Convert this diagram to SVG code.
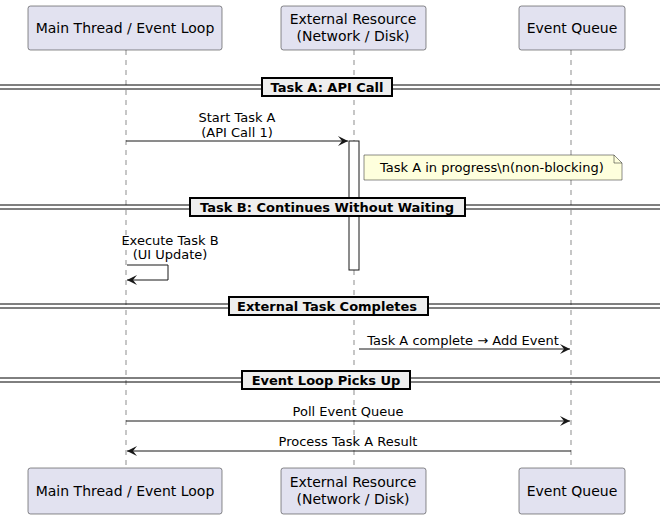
<svg xmlns="http://www.w3.org/2000/svg" width="660" height="519" viewBox="0 0 660 519">
<style>
text{font-family:"DejaVu Sans","Liberation Sans",sans-serif;fill:#000}
.p rect{fill:#E2E2F0;stroke:#181818;stroke-width:0.5}
.p text{font-size:14px;text-anchor:middle}
.life{stroke:#181818;stroke-width:0.5;stroke-dasharray:5,5}
.m{stroke:#181818;stroke-width:1;fill:none}
.ml{font-size:13px;text-anchor:middle}
.dl{stroke:#000;stroke-width:1}
.db{fill:#EEEEEE;stroke:#000;stroke-width:2}
.dt{font-size:13px;font-weight:bold;text-anchor:middle}
</style>
<defs><marker id="a" viewBox="0 0 10 10" refX="10" refY="5" markerWidth="10" markerHeight="10" markerUnits="userSpaceOnUse" orient="auto"><path d="M0,0 L10,5 L0,10 L4,5 Z" fill="#181818"/></marker></defs>
<g id="lifelines">
<line class="life" x1="126" y1="50" x2="126" y2="468"/>
<line class="life" x1="354" y1="50" x2="354" y2="468"/>
<line class="life" x1="571" y1="50" x2="571" y2="468"/>
</g>
<rect x="349" y="141" width="10" height="129" fill="#fff" stroke="#181818" stroke-width="1"/>
<g id="main" class="p"><rect x="28" y="6" width="194" height="44" rx="2.5"/><text x="125" y="33">Main Thread / Event Loop</text>
<rect x="28" y="468" width="194" height="46" rx="2.5"/><text x="125" y="496">Main Thread / Event Loop</text></g>
<g id="ext" class="p"><rect x="281" y="6" width="145" height="44" rx="2.5"/><text x="353" y="24">External Resource</text><text x="353" y="41">(Network / Disk)</text>
<rect x="281" y="468" width="145" height="46" rx="2.5"/><text x="353" y="487">External Resource</text><text x="353" y="504">(Network / Disk)</text></g>
<g id="queue" class="p"><rect x="519" y="6" width="106" height="44" rx="2.5"/><text x="572" y="33">Event Queue</text>
<rect x="519" y="468" width="106" height="46" rx="2.5"/><text x="572" y="496">Event Queue</text></g>
<g id="dividers">
<line class="dl" x1="0" y1="85" x2="660" y2="85"/><line class="dl" x1="0" y1="89" x2="660" y2="89"/>
<rect class="db" x="262" y="78" width="130" height="18"/><text class="dt" x="327" y="92">Task A: API Call</text>
<line class="dl" x1="0" y1="205" x2="660" y2="205"/><line class="dl" x1="0" y1="209" x2="660" y2="209"/>
<rect class="db" x="190" y="198" width="275" height="18"/><text class="dt" x="327" y="212">Task B: Continues Without Waiting</text>
<line class="dl" x1="0" y1="304" x2="660" y2="304"/><line class="dl" x1="0" y1="308" x2="660" y2="308"/>
<rect class="db" x="229" y="297" width="199" height="18"/><text class="dt" x="327" y="311">External Task Completes</text>
<line class="dl" x1="0" y1="378" x2="660" y2="378"/><line class="dl" x1="0" y1="382" x2="660" y2="382"/>
<rect class="db" x="242" y="371" width="168" height="18"/><text class="dt" x="326" y="385">Event Loop Picks Up</text>
</g>
<g id="note"><path d="M364,155 H614 L622,163 V180 H364 Z" fill="#FEFFDD" stroke="#181818" stroke-width="0.5"/><path d="M614,155 V163 H622" fill="none" stroke="#181818" stroke-width="0.5"/>
<text x="380" y="172" font-size="13">Task A in progress\n(non-blocking)</text></g>
<g id="connectors">
<line class="m" x1="126" y1="141" x2="348" y2="141" marker-end="url(#a)"/>
<text class="ml" x="237" y="122">Start Task A</text><text class="ml" x="237" y="137">(API Call 1)</text>
<path class="m" d="M127,265 H168 V280 H127" marker-end="url(#a)"/>
<text class="ml" x="170" y="245">Execute Task B</text><text class="ml" x="170" y="259">(UI Update)</text>
<line class="m" x1="359" y1="349" x2="570" y2="349" marker-end="url(#a)"/>
<text class="ml" x="463" y="345">Task A complete → Add Event</text>
<line class="m" x1="126" y1="421" x2="570" y2="421" marker-end="url(#a)"/>
<text class="ml" x="348" y="416">Poll Event Queue</text>
<line class="m" x1="571" y1="451" x2="127" y2="451" marker-end="url(#a)"/>
<text class="ml" x="348" y="446">Process Task A Result</text>
</g>
</svg>
